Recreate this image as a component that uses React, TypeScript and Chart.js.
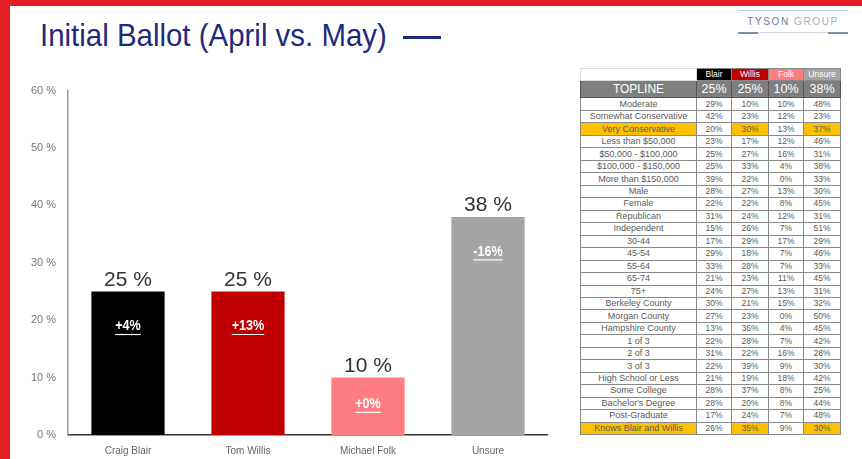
import React, { useEffect, useRef } from "react";
import { Chart, registerables } from "chart.js";

Chart.register(...registerables);

// ---- Chart data ----
const candidates = ["Craig Blair", "Tom Willis", "Michael Folk", "Unsure"];
const mayValues = [25, 25, 10, 38];
const changeLabels = ["+4%", "+13%", "+0%", "-16%"];
const barColors = ["#000000", "#c00000", "#ff7c80", "#a5a5a5"];
const yMax = 60;
const yStep = 10;

// ---- Table data ----
const tableHeaders = ["Blair", "Willis", "Folk", "Unsure"];
const headerColors = ["#000000", "#c00000", "#ff7c80", "#a5a5a5"];
const toplineValues = [25, 25, 10, 38];
const rowLabels = [
  "Moderate",
  "Somewhat Conservative",
  "Very Conservative",
  "Less than $50,000",
  "$50,000 - $100,000",
  "$100,000 - $150,000",
  "More than $150,000",
  "Male",
  "Female",
  "Republican",
  "Independent",
  "30-44",
  "45-54",
  "55-64",
  "65-74",
  "75+",
  "Berkeley County",
  "Morgan County",
  "Hampshire County",
  "1 of 3",
  "2 of 3",
  "3 of 3",
  "High School or Less",
  "Some College",
  "Bachelor's Degree",
  "Post-Graduate",
  "Knows Blair and Willis",
];
const blairCol = [29, 42, 20, 23, 25, 25, 39, 28, 22, 31, 15, 17, 29, 33, 21, 24, 30, 27, 13, 22, 31, 22, 21, 28, 28, 17, 26];
const willisCol = [10, 23, 30, 17, 27, 33, 22, 27, 22, 24, 26, 29, 18, 28, 23, 27, 21, 23, 36, 28, 22, 39, 19, 37, 20, 24, 35];
const folkCol = [10, 12, 13, 12, 16, 4, 0, 13, 8, 12, 7, 17, 7, 7, 11, 13, 15, 0, 4, 7, 16, 9, 18, 8, 8, 7, 9];
const unsureCol = [48, 23, 37, 46, 31, 38, 33, 30, 45, 31, 51, 29, 46, 33, 45, 31, 32, 50, 45, 42, 28, 30, 42, 25, 44, 48, 30];
const highlightRows = [2, 26];
const highlightCols = [1, 3];

const ORANGE = "#ffc000";
const FONT = "'Liberation Sans', Arial, sans-serif";

const labelPlugin = {
  id: "barLabels",
  afterDatasetsDraw(chart: any) {
    const ctx = chart.ctx;
    const meta = chart.getDatasetMeta(0);
    meta.data.forEach((bar: any, i: number) => {
      const { x, y, base } = bar.getProps(["x", "y", "base"], true);
      ctx.save();
      ctx.fillStyle = "#333333";
      ctx.font = `21px ${FONT}`;
      ctx.textAlign = "center";
      ctx.textBaseline = "alphabetic";
      ctx.fillText(`${mayValues[i]} %`, x, y - 6);

      const cy = Math.min(y + 35, (y + base) / 2 - 2);
      ctx.fillStyle = "#ffffff";
      ctx.font = `bold 14px ${FONT}`;
      ctx.textBaseline = "middle";
      const txt = changeLabels[i];
      ctx.translate(x, cy);
      ctx.scale(0.9, 1);
      ctx.fillText(txt, 0, 0);
      const w = ctx.measureText(txt).width;
      ctx.strokeStyle = "#ffffff";
      ctx.lineWidth = 1.2;
      ctx.beginPath();
      ctx.moveTo(-w / 2, 8);
      ctx.lineTo(w / 2, 8);
      ctx.stroke();
      ctx.restore();
    });
  },
};

function BallotChart() {
  const ref = useRef<HTMLCanvasElement | null>(null);
  useEffect(() => {
    if (!ref.current) return;
    const chart = new Chart(ref.current, {
      type: "bar",
      data: {
        labels: candidates,
        datasets: [
          {
            data: mayValues,
            backgroundColor: barColors,
            borderWidth: 0,
            categoryPercentage: 0.61,
            barPercentage: 1,
          },
        ],
      },
      options: {
        animation: false,
        responsive: false,
        maintainAspectRatio: false,
        layout: { padding: { top: 10, right: 0, left: 0, bottom: 0 } },
        plugins: {
          legend: { display: false },
          tooltip: { enabled: false },
          title: { display: false },
        },
        scales: {
          x: {
            grid: { display: false, drawTicks: false },
            border: { display: true, color: "#333333", width: 1.5 },
            ticks: {
              color: "#666666",
              font: { family: FONT, size: 10 },
              padding: 10,
              maxRotation: 0,
            },
            afterFit: (s: any) => {
              s.height = 24;
            },
          },
          y: {
            min: 0,
            max: yMax,
            grid: { display: false, drawTicks: false },
            border: { display: true, color: "#9a9a9a", width: 1.5 },
            ticks: {
              stepSize: yStep,
              color: "#777777",
              font: { family: FONT, size: 11 },
              padding: 12,
              callback: (v: any) => `${v} %`,
            },
            afterFit: (s: any) => {
              s.width = 48;
            },
          },
        },
      },
      plugins: [labelPlugin],
    });
    return () => chart.destroy();
  }, []);
  return (
    <canvas
      ref={ref}
      width={528}
      height={387}
      style={{ position: "absolute", left: 20, top: 72, width: 528, height: 387 }}
    />
  );
}

function DataTable() {
  const colW = [116, 35, 37, 35, 37];
  const cols = [blairCol, willisCol, folkCol, unsureCol];
  const border = "1px solid #8a8a8a";
  const cell: React.CSSProperties = {
    border,
    padding: 0,
    textAlign: "center",
    whiteSpace: "nowrap",
    overflow: "hidden",
    color: "#5a5a5a",
    fontSize: 9,
    lineHeight: "11px",
    height: 11.48,
  };
  return (
    <table
      style={{
        position: "absolute",
        left: 580,
        top: 68,
        borderCollapse: "collapse",
        tableLayout: "fixed",
        fontFamily: FONT,
        width: 260,
      }}
    >
      <colgroup>
        {colW.map((w, i) => (
          <col key={i} style={{ width: w }} />
        ))}
      </colgroup>
      <tbody>
        <tr style={{ height: 12 }}>
          <td style={{ ...cell, border: "1px solid #dddddd", background: "#ffffff" }} />
          {tableHeaders.map((h, i) => (
            <td
              key={h}
              style={{ ...cell, background: headerColors[i], color: "#ffffff", fontSize: 8.5, border: "1px solid #8a8a8a" }}
            >
              {h}
            </td>
          ))}
        </tr>
        <tr style={{ height: 17 }}>
          <td style={{ ...cell, background: "#7f7f7f", color: "#ffffff", fontSize: 12, lineHeight: "16px", height: 16, border: "1px solid #555" }}>
            TOPLINE
          </td>
          {toplineValues.map((v, i) => (
            <td
              key={i}
              style={{ ...cell, background: "#7f7f7f", color: "#ffffff", fontSize: 12.5, lineHeight: "16px", height: 16, border: "1px solid #555" }}
            >
              {v}%
            </td>
          ))}
        </tr>
        {rowLabels.map((label, r) => {
          const hl = highlightRows.includes(r);
          return (
            <tr key={label} style={{ height: 12.48 }}>
              <td style={{ ...cell, background: hl ? ORANGE : "#ffffff", fontSize: 9 }}>{label}</td>
              {cols.map((col, c) => (
                <td
                  key={c}
                  style={{
                    ...cell,
                    fontSize: 8.5,
                    background: hl && highlightCols.includes(c) ? ORANGE : "#ffffff",
                  }}
                >
                  {col[r]}%
                </td>
              ))}
            </tr>
          );
        })}
      </tbody>
    </table>
  );
}

export default function App() {
  useEffect(() => {
    document.body.style.margin = "0";
  }, []);
  return (
    <div
      style={{
        position: "absolute",
        left: 0,
        top: 0,
        width: 862,
        height: 459,
        overflow: "hidden",
        background: "#ffffff",
      }}
    >
      {/* red frame */}
      <div style={{ position: "absolute", left: 0, top: 0, width: 862, height: 6, background: "#e31e24" }} />
      <div style={{ position: "absolute", left: 0, top: 0, width: 10, height: 459, background: "#e31e24" }} />

      {/* title */}
      <div
        style={{
          position: "absolute",
          left: 40,
          top: 17,
          fontFamily: FONT,
          fontSize: 32,
          lineHeight: "36px",
          color: "#1f2a7c",
          whiteSpace: "nowrap",
          transform: "scaleX(0.92)",
          transformOrigin: "0 0",
        }}
      >
        Initial Ballot (April vs. May)
      </div>
      <div style={{ position: "absolute", left: 403, top: 36, width: 38, height: 3, background: "#1f2a7c" }} />

      {/* logo */}
      <div style={{ position: "absolute", left: 738, top: 10, width: 110, height: 1, background: "#c8ccd6" }} />
      <div
        style={{
          position: "absolute",
          left: 738,
          top: 16,
          width: 110,
          textAlign: "center",
          fontFamily: FONT,
          fontSize: 10,
          letterSpacing: 1.6,
          whiteSpace: "nowrap",
        }}
      >
        <span style={{ color: "#6a7a92" }}>TYSON </span>
        <span style={{ color: "#a9adb6" }}>GROUP</span>
      </div>
      <div style={{ position: "absolute", left: 738, top: 32, width: 110, height: 1, background: "#d6d9e0" }} />
      <div style={{ position: "absolute", left: 738, top: 32, width: 20, height: 1.5, background: "#7a8fb0" }} />
      <div style={{ position: "absolute", left: 828, top: 32, width: 20, height: 1.5, background: "#7a8fb0" }} />

      <BallotChart />
      <DataTable />
    </div>
  );
}
